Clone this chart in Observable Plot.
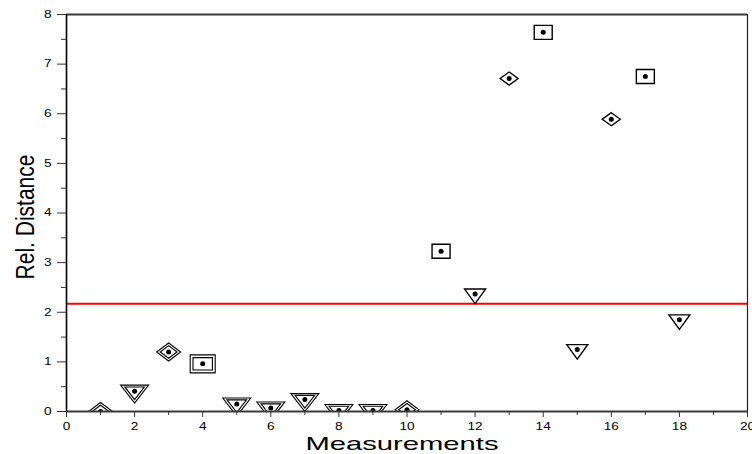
<!DOCTYPE html>
<html><head><meta charset="utf-8">
<script src="https://cdn.jsdelivr.net/npm/d3@7"></script>
<script src="https://cdn.jsdelivr.net/npm/@observablehq/plot@0.6"></script>
<style>body{margin:0;background:#fff;} #chart svg{display:block;}</style>
</head><body><div id="chart"></div>
<script>
const measurements = [1,2,3,4,5,6,7,8,9,10,11,12,13,14,15,16,17,18];
const distances = [0.0,0.41,1.20,0.96,0.15,0.07,0.24,0.02,0.02,0.035,3.23,2.37,6.71,7.64,1.25,5.89,6.75,1.85];
const shapes = ["diamond","triangle","diamond","square","triangle","triangle","triangle","triangle","triangle","diamond",
                "square","triangle","diamond","square","triangle","diamond","square","triangle"];
const sizes = ["large","large","large","large","large","large","large","large","large","large",
               "small","small","small","small","small","small","small","small"];
const threshold = 2.17;
const xTicks = [0,2,4,6,8,10,12,14,16,18,20];
const xMinor = [1,3,5,7,9,11,13,15,17,19];
const yTicks = [0,1,2,3,4,5,6,7,8];
const yMinor = [0.5,1.5,2.5,3.5,4.5,5.5,6.5,7.5];
const xLabel = "Measurements";
const yLabel = "Rel. Distance";

const data = measurements.map((m, i) => ({m, d: distances[i], shape: shapes[i], size: sizes[i]}));

// marker geometry (half-width, half-height / full height for triangles), in pixels
const dims = {
  large: {triangle: [14, 18], diamond: [12, 9], square: [12.5, 9]},
  small: {triangle: [10.5, 14.5], diamond: [9, 6.5], square: [9, 7]}
};
function symbol(shape, hw, hh) {
  return {draw(ctx) {
    if (shape === "triangle") {
      ctx.moveTo(-hw, -hh / 3); ctx.lineTo(hw, -hh / 3); ctx.lineTo(0, 2 * hh / 3); ctx.closePath();
    } else if (shape === "diamond") {
      ctx.moveTo(0, -hh); ctx.lineTo(hw, 0); ctx.lineTo(0, hh); ctx.lineTo(-hw, 0); ctx.closePath();
    } else {
      ctx.moveTo(-hw, -hh); ctx.lineTo(hw, -hh); ctx.lineTo(hw, hh); ctx.lineTo(-hw, hh); ctx.closePath();
    }
  }};
}

const markerMarks = [];
for (const size of ["large", "small"]) {
  for (const shape of ["triangle", "diamond", "square"]) {
    const [hw, hh] = dims[size][shape];
    const filter = d => d.size === size && d.shape === shape;
    markerMarks.push(Plot.dot(data, {x: "m", y: "d", filter, symbol: symbol(shape, hw, hh), r: 6,
      stroke: "black", strokeWidth: size === "large" ? 1.1 : 1.4, fill: "none", clip: true}));
    if (size === "large") {
      const inner = shape === "square" ? [hw - 2.8, hh - 2.8] : [hw * 0.7, hh * 0.7];
      markerMarks.push(Plot.dot(data, {x: "m", y: "d", filter, symbol: symbol(shape, inner[0], inner[1]), r: 6,
        stroke: "black", strokeWidth: 1.1, fill: "none", clip: true}));
    }
  }
}

const chart = Plot.plot({
  width: 752, height: 454,
  marginLeft: 66, marginRight: 5, marginTop: 14, marginBottom: 43,
  style: {fontFamily: "'Liberation Sans', Arial, sans-serif", fontSize: "10.5px", color: "black", background: "white"},
  x: {domain: [0, 20]},
  y: {domain: [0, 8]},
  marks: [
    Plot.ruleY([threshold], {stroke: "#ff0000", strokeWidth: 2}),
    ...markerMarks,
    Plot.dot(data, {x: "m", y: "d", r: 2.5, fill: "black", clip: true}),
    Plot.ruleY([8], {stroke: "#3a3a3a", strokeWidth: 2}),
    Plot.ruleX([20], {stroke: "#222", strokeWidth: 1.2}),
    Plot.ruleY([0], {stroke: "#3a3a3a", strokeWidth: 2}),
    Plot.ruleX([0], {stroke: "#000", strokeWidth: 1.6}),
    Plot.axisX(xTicks, {tickSize: 6, tickPadding: 5, label: null, stroke: "#333", tickFormat: d => String(d)}),
    Plot.axisX(xMinor, {tickSize: 4, tickFormat: () => "", label: null, stroke: "#333"}),
    Plot.axisY(yTicks, {tickSize: 9, tickPadding: 6, label: null, stroke: "#333", tickFormat: d => String(d)}),
    Plot.axisY(yMinor, {tickSize: 5, tickFormat: () => "", label: null, stroke: "#333"}),
    Plot.text([xLabel], {frameAnchor: "bottom", lineAnchor: "bottom", dy: 38, dx: -5, fontSize: 19, text: d => d}),
    Plot.text([yLabel], {frameAnchor: "left", textAnchor: "middle", lineAnchor: "bottom", rotate: -90, dx: -33, dy: 4, fontSize: 25, text: d => d})
  ]
});
document.getElementById("chart").appendChild(chart);

// horizontal stretch of the lettering, as in the reference
function stretch(el, sx) {
  const tr = el.getAttribute("transform");
  if (tr) {
    el.setAttribute("transform", tr + ` scale(${sx},1)`);
  } else {
    const x = +(el.getAttribute("x") || 0), y = +(el.getAttribute("y") || 0);
    el.removeAttribute("x"); el.removeAttribute("y");
    el.setAttribute("transform", `translate(${x},${y}) scale(${sx},1)`);
  }
}
d3.select(chart).selectAll("text").each(function() {
  const t = this.textContent;
  if (t === xLabel) {
    this.setAttribute("textLength", 193); this.setAttribute("lengthAdjust", "spacingAndGlyphs");
  } else if (t === yLabel) {
    const len = this.getComputedTextLength();
    if (len > 0) stretch(this, 125 / len);
  } else if (t.trim() !== "") {
    stretch(this, 1.3);
  }
});
</script>
</body></html>
